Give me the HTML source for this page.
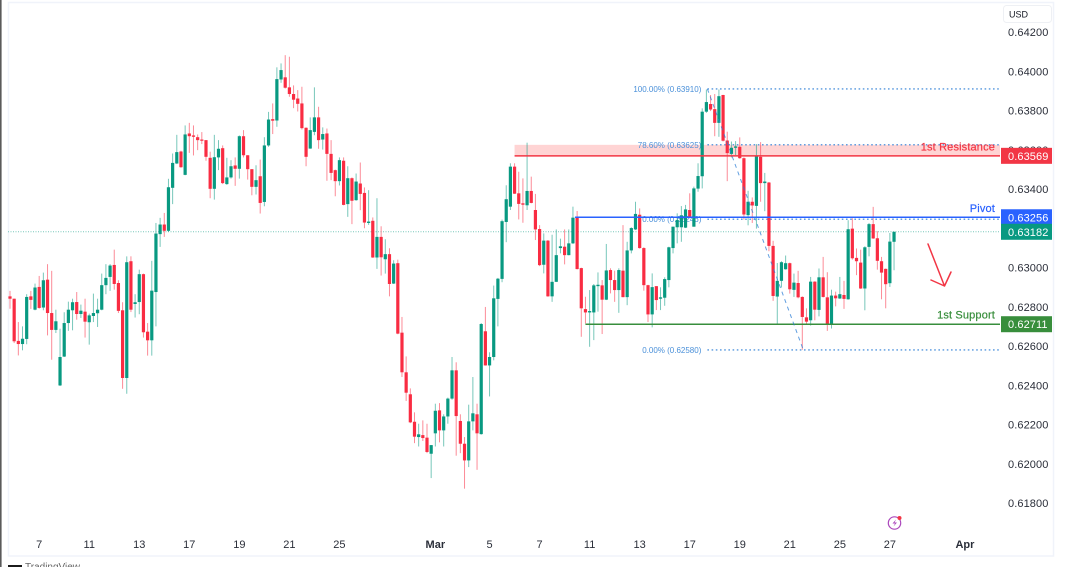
<!DOCTYPE html>
<html lang="en">
<head>
<meta charset="utf-8">
<title>AUD/USD chart</title>
<style>
html,body{margin:0;padding:0;background:#fff;width:1065px;height:567px;overflow:hidden}
svg{display:block;font-family:"Liberation Sans",sans-serif}
</style>
</head>
<body>
<svg id="chart" width="1065" height="567" viewBox="0 0 1065 567" xmlns="http://www.w3.org/2000/svg">
  <rect x="0" y="0" width="1.6" height="567" fill="#5a5a5a"/>
  <rect x="8.5" y="2.5" width="1045" height="553.5" fill="#fff" stroke="#f0f3fa" stroke-width="1.5"/>
  <g id="overlays-back"></g>
  <g id="candles"></g>
  <g id="overlays"></g>
  <g id="y-axis"></g>
  <g id="x-axis"></g>
  <g>
    <rect x="1003.5" y="5.5" width="48" height="17" rx="3" fill="#fff" stroke="#eef0f4"/>
    <text x="1009" y="17.5" font-size="9" fill="#131722">USD</text>
  </g>
  <g fill="none" stroke="#f23645" stroke-width="1.5" stroke-linecap="round" stroke-linejoin="round">
    <path d="M928 244 L944.5 286 M931 280 L944.5 286 L951 272"/>
  </g>
  <g>
    <circle cx="894.5" cy="523" r="6.2" fill="none" stroke="#ab47bc" stroke-width="1.2"/>
    <path d="M896 519.5 L892.5 523.5 L895 523.5 L893.5 526.5 L897 522.5 L894.6 522.5 Z" fill="#ab47bc"/>
    <circle cx="899.5" cy="518" r="2" fill="#f23645"/>
  </g>
  <g>
    <rect x="8" y="565" width="14" height="3" fill="#1b1b1b"/>
    <text x="25" y="570" font-size="10" fill="#666">TradingView</text>
  </g>
</svg>
<script>
// Candle data, in 0.00001 price units
var opens = [
62853,62841,62626,62610,62636,62853,62785,62901,62796,62938,
62768,62682,62399,62546,62717,62782,62824,62763,62775,62721,
62753,62767,62785,62910,62952,63013,62921,62782,62437,63032,
62814,62824,62966,62673,62629,62875,63170,63219,63187,63406,
63530,63591,63472,63683,63673,63664,63652,63649,63559,63401,
63561,63608,63425,63459,63520,63503,63669,63572,63501,63411,
63465,63334,63622,63756,63749,63958,63969,63918,63884,63861,
63836,63712,63606,63691,63765,63652,63683,63579,63496,63440,
63544,63323,63455,63343,63428,63380,63227,63238,63051,63156,
63042,63068,62918,63022,62668,62466,62354,62214,62136,62146,
62133,62051,62155,62272,62170,62241,62332,62476,62218,62102,
62017,62216,62252,62151,62675,62501,62544,62840,62942,63232,
63310,63514,63378,63327,63317,63390,63293,63196,63014,63137,
62853,62927,63099,63106,63063,63123,63256,62997,62788,62771,
62771,62905,62909,62836,62987,62936,62885,62984,62849,63087,
63194,63269,63099,62910,62761,62905,62841,62846,62936,63099,
63205,63205,63203,63293,63208,63402,63465,63794,63833,63807,
63737,63879,63647,63579,63610,63615,63557,63267,63335,63314,
63564,63430,63433,63110,62852,62932,62991,63022,62886,62921,
62850,62746,62731,62928,62784,62950,62848,62714,62857,62842,
62860,62838,63198,63049,63025,62893,63105,63221,63149,63032,
62993,62920,63131];
var highs = [
62881,62841,62722,62700,62864,62881,62918,62957,62974,63017,
62983,62785,62688,62772,62826,62841,62875,62811,62841,62765,
62867,62841,62969,63017,63017,63091,62935,62823,63057,63057,
62864,62989,62969,62717,63034,63227,63253,63278,63452,63581,
63676,63595,63724,63737,63724,63678,63690,63649,63590,63676,
63649,63622,63559,63547,63561,63673,63700,63572,63501,63521,
63550,63664,63793,63836,64020,64040,64082,64074,63928,63904,
63921,63714,63765,63918,63819,63714,63708,63649,63499,63561,
63561,63516,63459,63479,63535,63408,63394,63255,63353,63210,
63144,63098,63037,63040,62748,62547,62384,62262,62204,62221,
62204,62095,62306,62309,62252,62337,62544,62517,62252,62136,
62301,62442,62306,62717,62799,62568,62908,62947,63244,63419,
63531,63531,63488,63454,63636,63463,63375,63216,63174,63140,
63167,63194,63147,63194,63194,63310,63288,62999,62851,62885,
62916,62975,62936,63120,62996,62984,62996,63216,63131,63205,
63335,63301,63103,62912,62970,62905,62899,62950,63106,63208,
63276,63313,63319,63378,63412,63531,63811,63907,63879,63884,
63907,63880,63692,63642,63644,63663,63561,63391,63357,63629,
63639,63482,63436,63136,63023,63032,63061,63025,62969,62983,
62853,62792,62952,62930,62995,63054,62976,62887,62877,62952,
62932,63241,63251,63097,63091,63108,63227,63309,63185,63054,
62995,63176,63182];
var lows = [
62790,62615,62552,62578,62609,62789,62782,62790,62782,62654,
62530,62666,62396,62544,62677,62680,62734,62743,62643,62607,
62722,62697,62782,62864,62881,62887,62768,62382,62357,62773,
62745,62762,62643,62551,62551,62700,63105,63156,63181,63323,
63527,63508,63470,63584,63571,63598,63629,63544,63353,63346,
63496,63425,63421,63453,63416,63453,63561,63448,63368,63372,
63275,63312,63615,63680,63717,63941,63912,63870,63812,63795,
63703,63516,63605,63674,63605,63601,63442,63445,63363,63418,
63317,63258,63221,63340,63292,63200,63217,63049,62993,62959,
62969,62853,62916,62660,62442,62320,62207,62105,62088,62116,
62054,61927,62088,62109,62088,62204,62326,62041,62054,61873,
61983,62170,61969,62148,62500,62343,62527,62700,62925,63129,
63293,63375,63245,63228,63293,63327,63140,63007,62970,62851,
62825,62926,63072,63016,63062,63120,62990,62647,62715,62596,
62630,62775,62661,62834,62868,62825,62769,62848,62808,63072,
63191,63096,62882,62722,62695,62783,62783,62805,62899,63072,
63123,63131,63201,63251,63208,63386,63403,63788,63797,63669,
63666,63642,63440,63561,63573,63554,63244,63215,63227,63198,
63335,63287,63083,62830,62714,62898,62989,62867,62850,62843,
62581,62711,62704,62731,62751,62847,62677,62689,62802,62840,
62789,62836,63040,62961,62891,62782,63057,63146,62989,62838,
62792,62901,62986];
var closes = [
62841,62624,62610,62637,62850,62835,62898,62794,62935,62768,
62682,62726,62544,62717,62785,62823,62763,62780,62724,62756,
62768,62785,62910,62947,63010,62916,62779,62437,63027,62785,
62823,62966,62670,62629,62882,63173,63219,63187,63409,63533,
63588,63511,63678,63669,63666,63649,63646,63564,63401,63562,
63605,63430,63459,63516,63503,63669,63572,63501,63411,63445,
63329,63622,63754,63748,63960,64006,63916,63884,63855,63834,
63710,63564,63700,63765,63649,63680,63579,63482,63440,63547,
63319,63455,63340,63438,63375,63229,63234,63051,63156,63052,
63068,62916,63020,62663,62466,62362,62211,62138,62150,62131,
62060,62095,62270,62170,62241,62332,62476,62243,62102,62017,
62216,62257,62155,62712,62501,62544,62843,62943,63236,63348,
63514,63376,63324,63320,63390,63329,63194,63012,63137,62853,
62927,63063,63108,63063,63123,63254,62992,62792,62771,62778,
62909,62912,62836,62985,62936,62885,62987,62849,63087,63201,
63273,63099,62910,62761,62900,62834,62848,62941,63103,63208,
63242,63266,63296,63256,63403,63466,63794,63843,63805,63737,
63873,63646,63583,63610,63617,63557,63270,63335,63316,63571,
63430,63438,63110,62855,62932,63027,63022,62889,62923,62848,
62748,62724,62928,62785,62950,62850,62714,62857,62843,62864,
62840,63195,63047,63032,62893,63103,63221,63148,63034,62974,
62915,63132,63182];

// Axis ticks
var priceTicks = ["0.64200","0.64000","0.63800","0.63600","0.63400","0.63200","0.63000","0.62800","0.62600","0.62400","0.62200","0.62000","0.61800"];
var timeTickBars = [7,19,31,43,55,67,79,102,115,127,139,151,163,175,187,199,211,229];
var timeTickLabels = ["7","11","13","17","19","21","25","Mar","5","7","11","13","17","19","21","25","27","Apr"];
var boldTimeTicks = ["Mar","Apr"];

// Key levels and Fibonacci drawing, in price and bar-index terms
var lastPrice = 0.63182;
var resistanceLevel = 0.63569;
var resistanceZoneTop = 0.63625;
var pivotLevel = 0.63256;
var supportLevel = 0.62711;
var resistanceStartBar = 121;
var pivotStartBar = 135.5;
var supportStartBar = 138;
var fibStartBar = 167;
var fibEndBar = 190;
var fibPercents = ["100.00%","78.60%","0.00%","0.00%"];
var fibPrices = [0.63910,0.63625,0.63246,0.62580];

function yScale(price){ return 32 + (0.642 - price) * 19625; }
function xScale(bar){ return 10 + 4.17 * bar; }

var NS = "http://www.w3.org/2000/svg";
function make(tag, attrs, parent, txt){
  var el = document.createElementNS(NS, tag);
  for (var k in attrs) el.setAttribute(k, attrs[k]);
  if (txt !== undefined) el.textContent = txt;
  parent.appendChild(el);
  return el;
}
var GREEN = "#089981", RED = "#f92c42", BLUE = "#2962ff", SUP = "#388e3c", FIB = "#2e7fd6";
var RIGHT = 1000;

// Back layer: resistance zone and last price line
var back = document.getElementById("overlays-back");
var zone = make("rect", {x:xScale(resistanceStartBar), y:yScale(resistanceZoneTop), width:RIGHT-xScale(resistanceStartBar), height:yScale(resistanceLevel)-yScale(resistanceZoneTop), fill:"#ff2a2a", "fill-opacity":"0.2"}, back);


var lastLine = make("line", {x1:8, x2:RIGHT, y1:yScale(lastPrice), y2:yScale(lastPrice), stroke:GREEN, "stroke-opacity":"0.55", "stroke-width":"1", "stroke-dasharray":"1 1.5"}, back);



// Fibonacci lines behind the candles
fibPrices.forEach(function(p, i){
  var y = yScale(p);
  var ln = make("line", {x1:xScale(fibStartBar)+1, x2:RIGHT, y1:y, y2:y, stroke:FIB, "stroke-width":"1.1", "stroke-dasharray":"1.6 2.6"}, back);
  
  
  var t = make("text", {x:xScale(fibStartBar)-5, y:y+3, "font-size":"8", fill:"#4a90d9", "text-anchor":"end"}, back, fibPercents[i] + " (" + p.toFixed(5) + ")");
  
  
});

// Candles
var candleLayer = document.getElementById("candles");
for (var i = 0; i < opens.length; i++){
  var isUp = closes[i] >= opens[i];
  var col = isUp ? GREEN : RED;
  var cx = xScale(i);
  var g = make("g", {}, candleLayer);
  
  
  make("line", {x1:cx, x2:cx, y1:yScale(highs[i]/100000), y2:yScale(lows[i]/100000), stroke:col, "stroke-width":"1", "stroke-opacity":"0.55"}, g);
  var bodyTop = yScale(Math.max(opens[i], closes[i])/100000);
  var bodyBottom = yScale(Math.min(opens[i], closes[i])/100000);
  make("rect", {x:cx-1.6, y:bodyTop, width:3.2, height:Math.max(bodyBottom-bodyTop,1), fill:col}, g);
}

// Front layer: level lines, labels, fib diagonal
var ov = document.getElementById("overlays");
var levels = [
  {name:'resistance', p:resistanceLevel, bar:resistanceStartBar, c:"#f23645", label:"1st Resistance"},
  {name:'pivot', p:pivotLevel, bar:pivotStartBar, c:BLUE, label:"Pivot"},
  {name:'support', p:supportLevel, bar:supportStartBar, c:SUP, label:"1st Support"}
];
levels.forEach(function(l){
  var y = yScale(l.p);
  var ln = make("line", {x1:xScale(l.bar), x2:RIGHT, y1:y, y2:y, stroke:l.c, "stroke-width":"1.5"}, ov);
  
  
  var t = make("text", {x:995, y:y-5.5, "font-size":"11", "font-weight":"400", "letter-spacing":"0.15", fill:l.c, stroke:l.c, "stroke-width":"0.2", "text-anchor":"end"}, ov, l.label);
  
  
});
var diag = make("line", {x1:xScale(fibStartBar)+1, y1:yScale(fibPrices[0]), x2:xScale(fibEndBar)+1, y2:yScale(fibPrices[3]), stroke:FIB, "stroke-opacity":"0.75", "stroke-width":"1", "stroke-dasharray":"4 4"}, ov);



// Price axis
var yAxis = document.getElementById("y-axis");
priceTicks.forEach(function(s){
  var t = make("text", {x:1008, y:yScale(parseFloat(s))+4, "font-size":"11", "letter-spacing":"0.1", fill:"#2a2e39"}, yAxis, s);
  
  
});
var priceBadges = [
  {p:resistanceLevel, c:"#f23645"},
  {p:pivotLevel, c:BLUE},
  {p:lastPrice, c:GREEN},
  {p:supportLevel, c:SUP}
];
priceBadges.forEach(function(b){
  var cy = yScale(b.p);
  var g = make("g", {}, yAxis);
  
  
  make("rect", {x:1001, y:cy-8, width:51, height:16, fill:b.c}, g);
  make("text", {x:1008, y:cy+4, "font-size":"11", "letter-spacing":"0.1", fill:"#fff"}, g, b.p.toFixed(5));
});

// Time axis
var xAxis = document.getElementById("x-axis");
timeTickLabels.forEach(function(s, i){
  var bold = boldTimeTicks.indexOf(s) >= 0;
  var t = make("text", {x:xScale(timeTickBars[i]), y:548, "font-size":"11", "text-anchor":"middle", "font-weight":bold ? "700" : "400", fill:"#2a2e39"}, xAxis, s);
  
  
});
</script>
</body>
</html>
